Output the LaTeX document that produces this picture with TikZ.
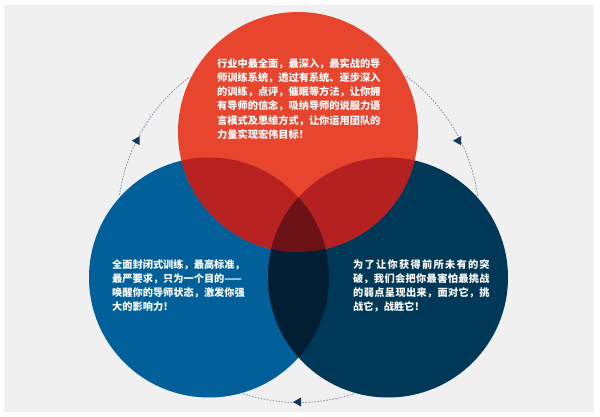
\documentclass[tikz,border=0pt]{standalone}
\usepackage{fontspec}
\newfontfamily\cjk{Noto Sans CJK SC}
\definecolor{bggray}{HTML}{F0F0F0}
\definecolor{cred}{HTML}{E8452F}
\definecolor{cblue}{HTML}{01609A}
\definecolor{cnavy}{HTML}{003958}
\definecolor{crb}{HTML}{B72220}
\definecolor{crn}{HTML}{B42120}
\definecolor{cbn}{HTML}{021E33}
\definecolor{crbn}{HTML}{6C1216}
\definecolor{dashc}{HTML}{7F93AA}
\definecolor{arrc}{HTML}{14385A}
\tikzset{
  txt/.style={anchor=north west, inner sep=0pt, text=white,
    font=\cjk\bfseries\fontsize{10.2}{14.3}\selectfont},
  cyc/.style={draw=dashc, line width=0.8pt, dash pattern=on 1.6pt off 1.4pt},
  lefttri/.style={fill=arrc}
}
\begin{document}
\begin{tikzpicture}[x=1pt,y=-1pt]
\useasboundingbox (0,0) rectangle (600,417);
\fill[white] (0,0) rectangle (600,417);
\fill[bggray] (4,5) rectangle (594,412);
\coordinate (R) at (298,132);
\coordinate (B) at (209,277.5);
\coordinate (N) at (388,277.5);
\coordinate (O) at (298.5,221.5);
% circles
\fill[cblue] (B) circle[radius=120];
\fill[cnavy] (N) circle[radius=120];
\fill[cred] (R) circle[radius=120];
\begin{scope}
  \clip (R) circle[radius=120];
  \fill[crb] (B) circle[radius=120];
  \fill[crn] (N) circle[radius=120];
\end{scope}
\begin{scope}
  \clip (B) circle[radius=120];
  \fill[cbn] (N) circle[radius=120];
  \clip (N) circle[radius=120];
  \fill[crbn] (R) circle[radius=120];
\end{scope}
% cycle arcs
\draw[cyc] (O) ++(188.4:181) arc[start angle=188.4, end angle=232.9, radius=181];
\draw[cyc] (O) ++(306.6:181) arc[start angle=306.6, end angle=352.1, radius=181];
\draw[cyc] (O) ++(72.1:181) arc[start angle=72.1, end angle=107.9, radius=181];
% arrow marks (all point left)
\coordinate (aL) at (136.7,140.7);
\coordinate (aR) at (458,140.7);
\coordinate (aB) at (298,402);
\foreach \a in {aL,aR,aB}
  \fill[lefttri] (\a) +(-5,0) -- +(3,-4.5) -- +(3,4.5) -- cycle;
% texts
\node[txt, align=left] (tred) at (217,58) {行业中最全面，最深入，最实战的导\\师训练系统，透过有系统、逐步深入\\的训练，点评，催眠等方法，让你拥\\有导师的信念，吸纳导师的说服力语\\言模式及思维方式，让你运用团队的\\力量实现宏伟目标！};
\node[txt, align=left] (tblue) at (112,259) {全面封闭式训练，最高标准，\\最严要求，只为一个目的——\\唤醒你的导师状态，激发你强\\大的影响力！};
\node[txt, text width=136.5pt, align=justify] (tnavy) at (353,259) {\XeTeXlinebreaklocale "zh"\XeTeXlinebreakskip=0pt plus 4pt 为了让你获得前所未有的突\linebreak 破，我们会把你最害怕最挑战\linebreak 的弱点呈现出来，面对它，挑\linebreak 战它，战胜它！};
\end{tikzpicture}
\end{document}
